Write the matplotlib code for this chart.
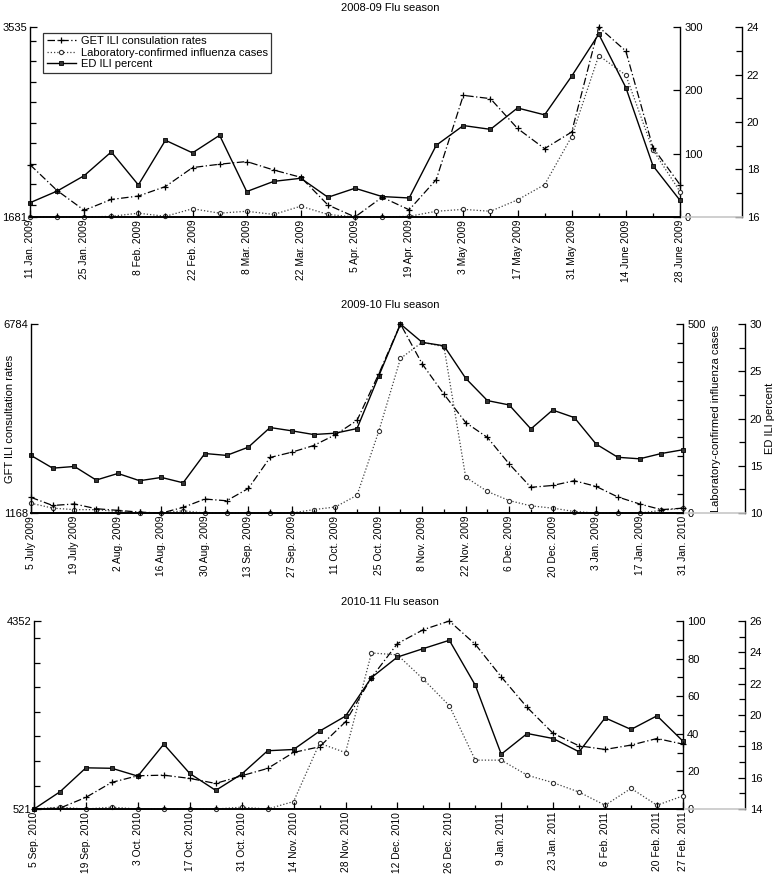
"""
Three flu seasons: GFT ILI rates, lab-confirmed cases and ED ILI percent,
each season drawn on its own panel with three y axes.
"""

from __future__ import annotations

import matplotlib

matplotlib.use("Agg")
import matplotlib.pyplot as plt
from matplotlib.lines import Line2D
from matplotlib.ticker import FixedLocator, MultipleLocator, NullFormatter

plt.rcParams["font.family"] = ["Liberation Sans", "DejaVu Sans"]

OUT_PATH = "out.png"

# ---- 2008-09 season (weekly, 11 Jan 2009 .. 28 June 2009)
S1_TITLE = "2008-09 Flu season"
S1_LABELS = [
    "11 Jan. 2009", "25 Jan. 2009", "8 Feb. 2009", "22 Feb. 2009",
    "8 Mar. 2009", "22 Mar. 2009", "5 Apr. 2009", "19 Apr. 2009",
    "3 May 2009", "17 May 2009", "31 May 2009", "14 June 2009", "28 June 2009",
]
S1_GFT = [2191, 1939, 1746, 1852, 1885, 1978, 2163, 2196, 2222, 2139, 2068, 1798, 1681,
          1874, 1751, 2046, 2868, 2836, 2545, 2348, 2510, 3535, 3300, 2358, 1996]
S1_LAB = [0, 0, 0, 1, 6, 1, 13, 6, 9, 4, 17, 4, 0,
          0, 1, 9, 12, 9, 27, 51, 127, 255, 224, 106, 40]
S1_ED = [16.6, 17.09, 17.74, 18.74, 17.35, 19.23, 18.7, 19.44, 17.07, 17.5, 17.63, 16.83, 17.21,
         16.86, 16.8, 19.02, 19.85, 19.69, 20.59, 20.3, 21.93, 23.7, 21.45, 18.16, 16.7]

# ---- 2009-10 season (weekly, 5 July 2009 .. 31 Jan 2010)
S2_TITLE = "2009-10 Flu season"
S2_LABELS = [
    "5 July 2009", "19 July 2009", "2 Aug. 2009", "16 Aug. 2009", "30 Aug. 2009",
    "13 Sep. 2009", "27 Sep. 2009", "11 Oct. 2009", "25 Oct. 2009", "8 Nov. 2009",
    "22 Nov. 2009", "6 Dec. 2009", "20 Dec. 2009", "3 Jan. 2009", "17 Jan. 2009",
    "31 Jan. 2010",
]
S2_GFT = [1634, 1393, 1438, 1297, 1247, 1196, 1168, 1336, 1584, 1533, 1898, 2819, 2976, 3173,
          3493, 3920, 5301, 6784, 5599, 4700, 3858, 3414, 2628, 1932, 1988, 2128, 1960, 1645,
          1438, 1269, 1314]
S2_LAB = [26, 13, 9, 9, 4, 0, 0, 6, 0, 0, 0, 0, 0, 9, 16, 47, 216, 409, 452, 440, 95, 57,
          33, 19, 13, 4, 0, 0, 0, 7, 13]
S2_ED = [16.1, 14.75, 14.93, 13.49, 14.19, 13.42, 13.77, 13.2, 16.3, 16.1, 16.97, 19.05, 18.7,
         18.31, 18.45, 18.94, 24.5, 30.0, 28.06, 27.7, 24.26, 21.9, 21.44, 18.9, 20.9, 20.1,
         17.3, 15.9, 15.74, 16.3, 16.7]

# ---- 2010-11 season (weekly, 5 Sep 2010 .. 27 Feb 2011)
S3_TITLE = "2010-11 Flu season"
S3_LABELS = [
    "5 Sep. 2010", "19 Sep. 2010", "3 Oct. 2010", "17 Oct. 2010", "31 Oct. 2010",
    "14 Nov. 2010", "28 Nov. 2010", "12 Dec. 2010", "26 Dec. 2010", "9 Jan. 2011",
    "23 Jan. 2011", "6 Feb. 2011", "20 Feb. 2011", "27 Feb. 2011",
]
S3_GFT = [521, 540, 759, 1065, 1199, 1211, 1145, 1042, 1199, 1348, 1674, 1789, 2299, 3199,
          3892, 4176, 4352, 3877, 3214, 2590, 2061, 1808, 1735, 1824, 1958, 1843]
S3_LAB = [0, 1, 0, 1, 0, 0, 0, 0, 1, 0, 4, 35, 30, 83, 82, 69, 55, 26, 26, 18, 14, 9, 2,
          11, 2, 7]
S3_ED = [14.0, 15.1, 16.63, 16.6, 16.1, 18.14, 16.27, 15.19, 16.23, 17.72, 17.8, 18.97, 19.93,
         22.39, 23.7, 24.24, 24.77, 21.9, 17.5, 18.82, 18.5, 17.65, 19.82, 19.08, 19.95, 18.33]

LEGEND_LABELS = [
    "GET ILI consulation rates",
    "Laboratory-confirmed influenza cases",
    "ED ILI percent",
]

FS = 8
XFS = 7.4


def style_axis(ax, side: str) -> None:
    """Inward ticks, only the spine on `side` visible."""
    for name, spine in ax.spines.items():
        spine.set_visible(name == side)
        spine.set_linewidth(1.0)
    ax.tick_params(axis="y", which="both", direction="in", labelsize=FS, width=0.9)
    ax.tick_params(axis="y", which="major", length=5)
    ax.tick_params(axis="y", which="minor", length=4)


def draw_season(fig, rect, ed_offset, title, labels, gft, lab, ed, cfg, show_legend=False,
                show_ylabels=False):
    ax = fig.add_axes(rect)
    ax_lab = ax.twinx()
    ax_ed = ax.twinx()
    ax_ed.spines["right"].set_position(("axes", ed_offset))

    x = list(range(len(gft)))
    l_gft, = ax.plot(x, gft, color="black", lw=0.9, ls=(0, (6, 2, 1, 2)), marker="+",
                     ms=4, mew=0.9, clip_on=False, zorder=3)
    l_lab, = ax_lab.plot(x, lab, color="0.25", lw=0.9, ls=(0, (1, 1.6)), marker="o",
                         ms=3, mfc="white", mec="0.2", mew=0.8, clip_on=False, zorder=3)
    l_ed, = ax_ed.plot(x, ed, color="black", lw=1.0, ls="-", marker="s", ms=3,
                       mfc="0.2", mec="black", mew=0.6, clip_on=False, zorder=3)

    n = len(gft)
    ax.set_xlim(0, n - 1)
    ax.set_ylim(cfg["gft_lim"])
    ax_lab.set_ylim(cfg["lab_lim"])
    ax_ed.set_ylim(cfg["ed_lim"])

    # x axis: labelled every two weeks plus the last week, minor tick weekly
    major = list(range(0, n - 1, 2)) + [n - 1]
    ax.set_xticks(major)
    ax.set_xticklabels(labels, rotation=90, fontsize=XFS)
    ax.xaxis.set_minor_locator(MultipleLocator(1))
    ax.tick_params(axis="x", which="both", direction="in", width=0.9)
    ax.tick_params(axis="x", which="major", length=5, pad=2)
    ax.tick_params(axis="x", which="minor", length=3)

    style_axis(ax, "left")
    ax.spines["bottom"].set_visible(True)
    ax.spines["bottom"].set_linewidth(1.4)
    ax.set_yticks(list(cfg["gft_lim"]))
    ax.set_yticklabels([str(v) for v in cfg["gft_lim"]])
    ax.tick_params(axis="y", pad=2)
    if cfg["gft_minor"]:
        lo, hi = cfg["gft_lim"]
        step = cfg["gft_minor"]
        ax.yaxis.set_minor_locator(FixedLocator(
            [v for v in range((lo // step + 1) * step, hi, step)]))
        ax.yaxis.set_minor_formatter(NullFormatter())

    style_axis(ax_lab, "right")
    ax_lab.yaxis.set_major_locator(MultipleLocator(cfg["lab_major"]))
    ax_lab.yaxis.set_minor_locator(MultipleLocator(cfg["lab_minor"]))
    ax_lab.tick_params(axis="y", pad=3)

    style_axis(ax_ed, "right")
    ax_ed.yaxis.set_major_locator(MultipleLocator(cfg["ed_major"]))
    ax_ed.yaxis.set_minor_locator(MultipleLocator(cfg["ed_minor"]))

    # light line joining the two right-hand axes at the base
    ax.add_line(Line2D([1, ed_offset], [0, 0], transform=ax.transAxes, color="0.78",
                       lw=1.2, clip_on=False))

    ax.patch.set_visible(False)
    ax_lab.patch.set_visible(False)
    ax.set_zorder(ax_ed.get_zorder() + 1)

    fig.text(0.5, rect[1] + rect[3] + 0.016, title, ha="center", va="bottom", fontsize=FS)

    if show_ylabels:
        ax.set_ylabel("GFT ILI consultation rates", fontsize=FS)
        ax.yaxis.set_label_coords(-0.024, 0.5)
        ax_lab.set_ylabel("Laboratory-confirmed influenza cases", fontsize=FS, labelpad=4)
        ax_ed.set_ylabel("ED ILI percent", fontsize=FS, labelpad=2)

    if show_legend:
        leg = ax.legend([l_gft, l_lab, l_ed], LEGEND_LABELS, loc="upper left",
                        bbox_to_anchor=(0.012, 1.0), fontsize=FS, frameon=True,
                        fancybox=False, edgecolor="black", handlelength=2.6,
                        borderpad=0.3, labelspacing=0.15, handletextpad=0.5)
        leg.get_frame().set_linewidth(0.9)
    return ax


def main() -> None:
    fig = plt.figure(figsize=(7.8, 8.77), dpi=100)

    draw_season(
        fig, [0.0385, 0.7526, 0.8333, 0.2166], 1.0954, S1_TITLE, S1_LABELS,
        S1_GFT, S1_LAB, S1_ED,
        dict(gft_lim=(1681, 3535), gft_minor=200, lab_lim=(0, 300), lab_major=100,
             lab_minor=100, ed_lim=(16, 24), ed_major=2, ed_minor=1),
        show_legend=True,
    )
    draw_season(
        fig, [0.0397, 0.415, 0.836, 0.2155], 1.095, S2_TITLE, S2_LABELS,
        S2_GFT, S2_LAB, S2_ED,
        dict(gft_lim=(1168, 6784), gft_minor=0, lab_lim=(0, 500), lab_major=500,
             lab_minor=50, ed_lim=(10, 30), ed_major=5, ed_minor=2.5),
        show_ylabels=True,
    )
    draw_season(
        fig, [0.0436, 0.0775, 0.832, 0.2144], 1.0955, S3_TITLE, S3_LABELS,
        S3_GFT, S3_LAB, S3_ED,
        dict(gft_lim=(521, 4352), gft_minor=500, lab_lim=(0, 100), lab_major=20,
             lab_minor=10, ed_lim=(14, 26), ed_major=2, ed_minor=1),
    )

    fig.savefig(OUT_PATH, dpi=100)
    plt.close(fig)


if __name__ == "__main__":
    main()
